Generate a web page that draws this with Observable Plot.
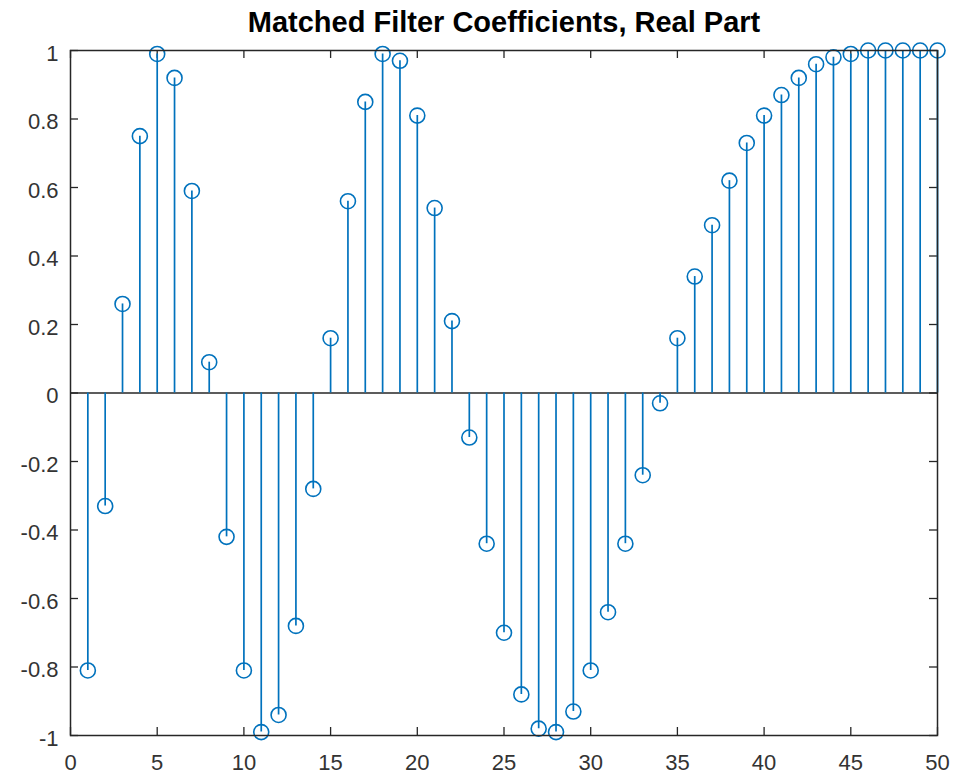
<!DOCTYPE html>
<html>
<head>
<meta charset="utf-8">
<script src="https://cdn.jsdelivr.net/npm/d3@7"></script>
<script src="https://cdn.jsdelivr.net/npm/@observablehq/plot@0.6"></script>
<style>
  html, body { margin: 0; padding: 0; background: #fff; }
  svg { display: block; }
</style>
</head>
<body>
<div id="chart"></div>
<script>
const title = "Matched Filter Coefficients, Real Part";
const sampleIndex = d3.range(1, 51);
const realPart = [
  -0.81, -0.33, 0.26, 0.75, 0.99, 0.92, 0.59, 0.09, -0.42, -0.81,
  -0.99, -0.94, -0.68, -0.28, 0.16, 0.56, 0.85, 0.99, 0.97, 0.81,
  0.54, 0.21, -0.13, -0.44, -0.70, -0.88, -0.98, -0.99, -0.93, -0.81,
  -0.64, -0.44, -0.24, -0.03, 0.16, 0.34, 0.49, 0.62, 0.73, 0.81,
  0.87, 0.92, 0.96, 0.98, 0.99, 1.00, 1.00, 1.00, 1.00, 1.00
];
const xTicks = [0, 5, 10, 15, 20, 25, 30, 35, 40, 45, 50];
const yTicks = [-1, -0.8, -0.6, -0.4, -0.2, 0, 0.2, 0.4, 0.6, 0.8, 1];

const data = sampleIndex.map((x, i) => ({x, y: realPart[i]}));

const W = 957, H = 782;
const mL = 70, mR = 20, mT = 50, mB = 47;
const fw = W - mL - mR, fh = H - mT - mB;
const tickLen = 8;
const axisColor = "#262626";
const labelColor = "#333333";
const blue = "#0072BD";

const chart = Plot.plot({
  width: W,
  height: H,
  marginLeft: mL,
  marginRight: mR,
  marginTop: mT,
  marginBottom: mB,
  style: {fontFamily: "'Liberation Sans', Arial, Helvetica, sans-serif", background: "#fff"},
  x: {domain: [0, 50], ticks: xTicks, label: null},
  y: {domain: [-1, 1], ticks: yTicks, label: null},
  marks: [
    // tick labels
    Plot.axisX(xTicks, {anchor: "bottom", label: null, tickSize: 0, tickPadding: 19, fontSize: 22, color: labelColor, tickFormat: d => String(d)}),
    Plot.axisY(yTicks, {anchor: "left", label: null, tickSize: 0, tickPadding: 12, dy: 3, fontSize: 22, color: labelColor, tickFormat: d => String(d)}),
    // inward ticks, all four sides
    Plot.ruleX(xTicks, {x: d => d, insetTop: fh - tickLen, stroke: axisColor, strokeWidth: 1.3}),
    Plot.ruleX(xTicks, {x: d => d, insetBottom: fh - tickLen, stroke: axisColor, strokeWidth: 1.3}),
    Plot.ruleY(yTicks, {y: d => d, insetRight: fw - tickLen, stroke: axisColor, strokeWidth: 1.3}),
    Plot.ruleY(yTicks, {y: d => d, insetLeft: fw - tickLen, stroke: axisColor, strokeWidth: 1.3}),
    // baseline
    Plot.ruleY([0], {stroke: axisColor, strokeWidth: 1.5}),
    // stems
    Plot.ruleX(data, {x: "x", y1: 0, y2: "y", stroke: blue, strokeWidth: 1.7}),
    Plot.dot(data, {x: "x", y: "y", r: 7.5, stroke: blue, strokeWidth: 1.6, fill: "none"}),
    // box
    Plot.frame({stroke: axisColor, strokeWidth: 1.5}),
    // title
    Plot.text([title], {frameAnchor: "top", dy: -28, fontSize: 29, fontWeight: "bold", fill: "#000", lineAnchor: "middle"})
  ]
});

document.getElementById("chart").appendChild(chart);
</script>
</body>
</html>
